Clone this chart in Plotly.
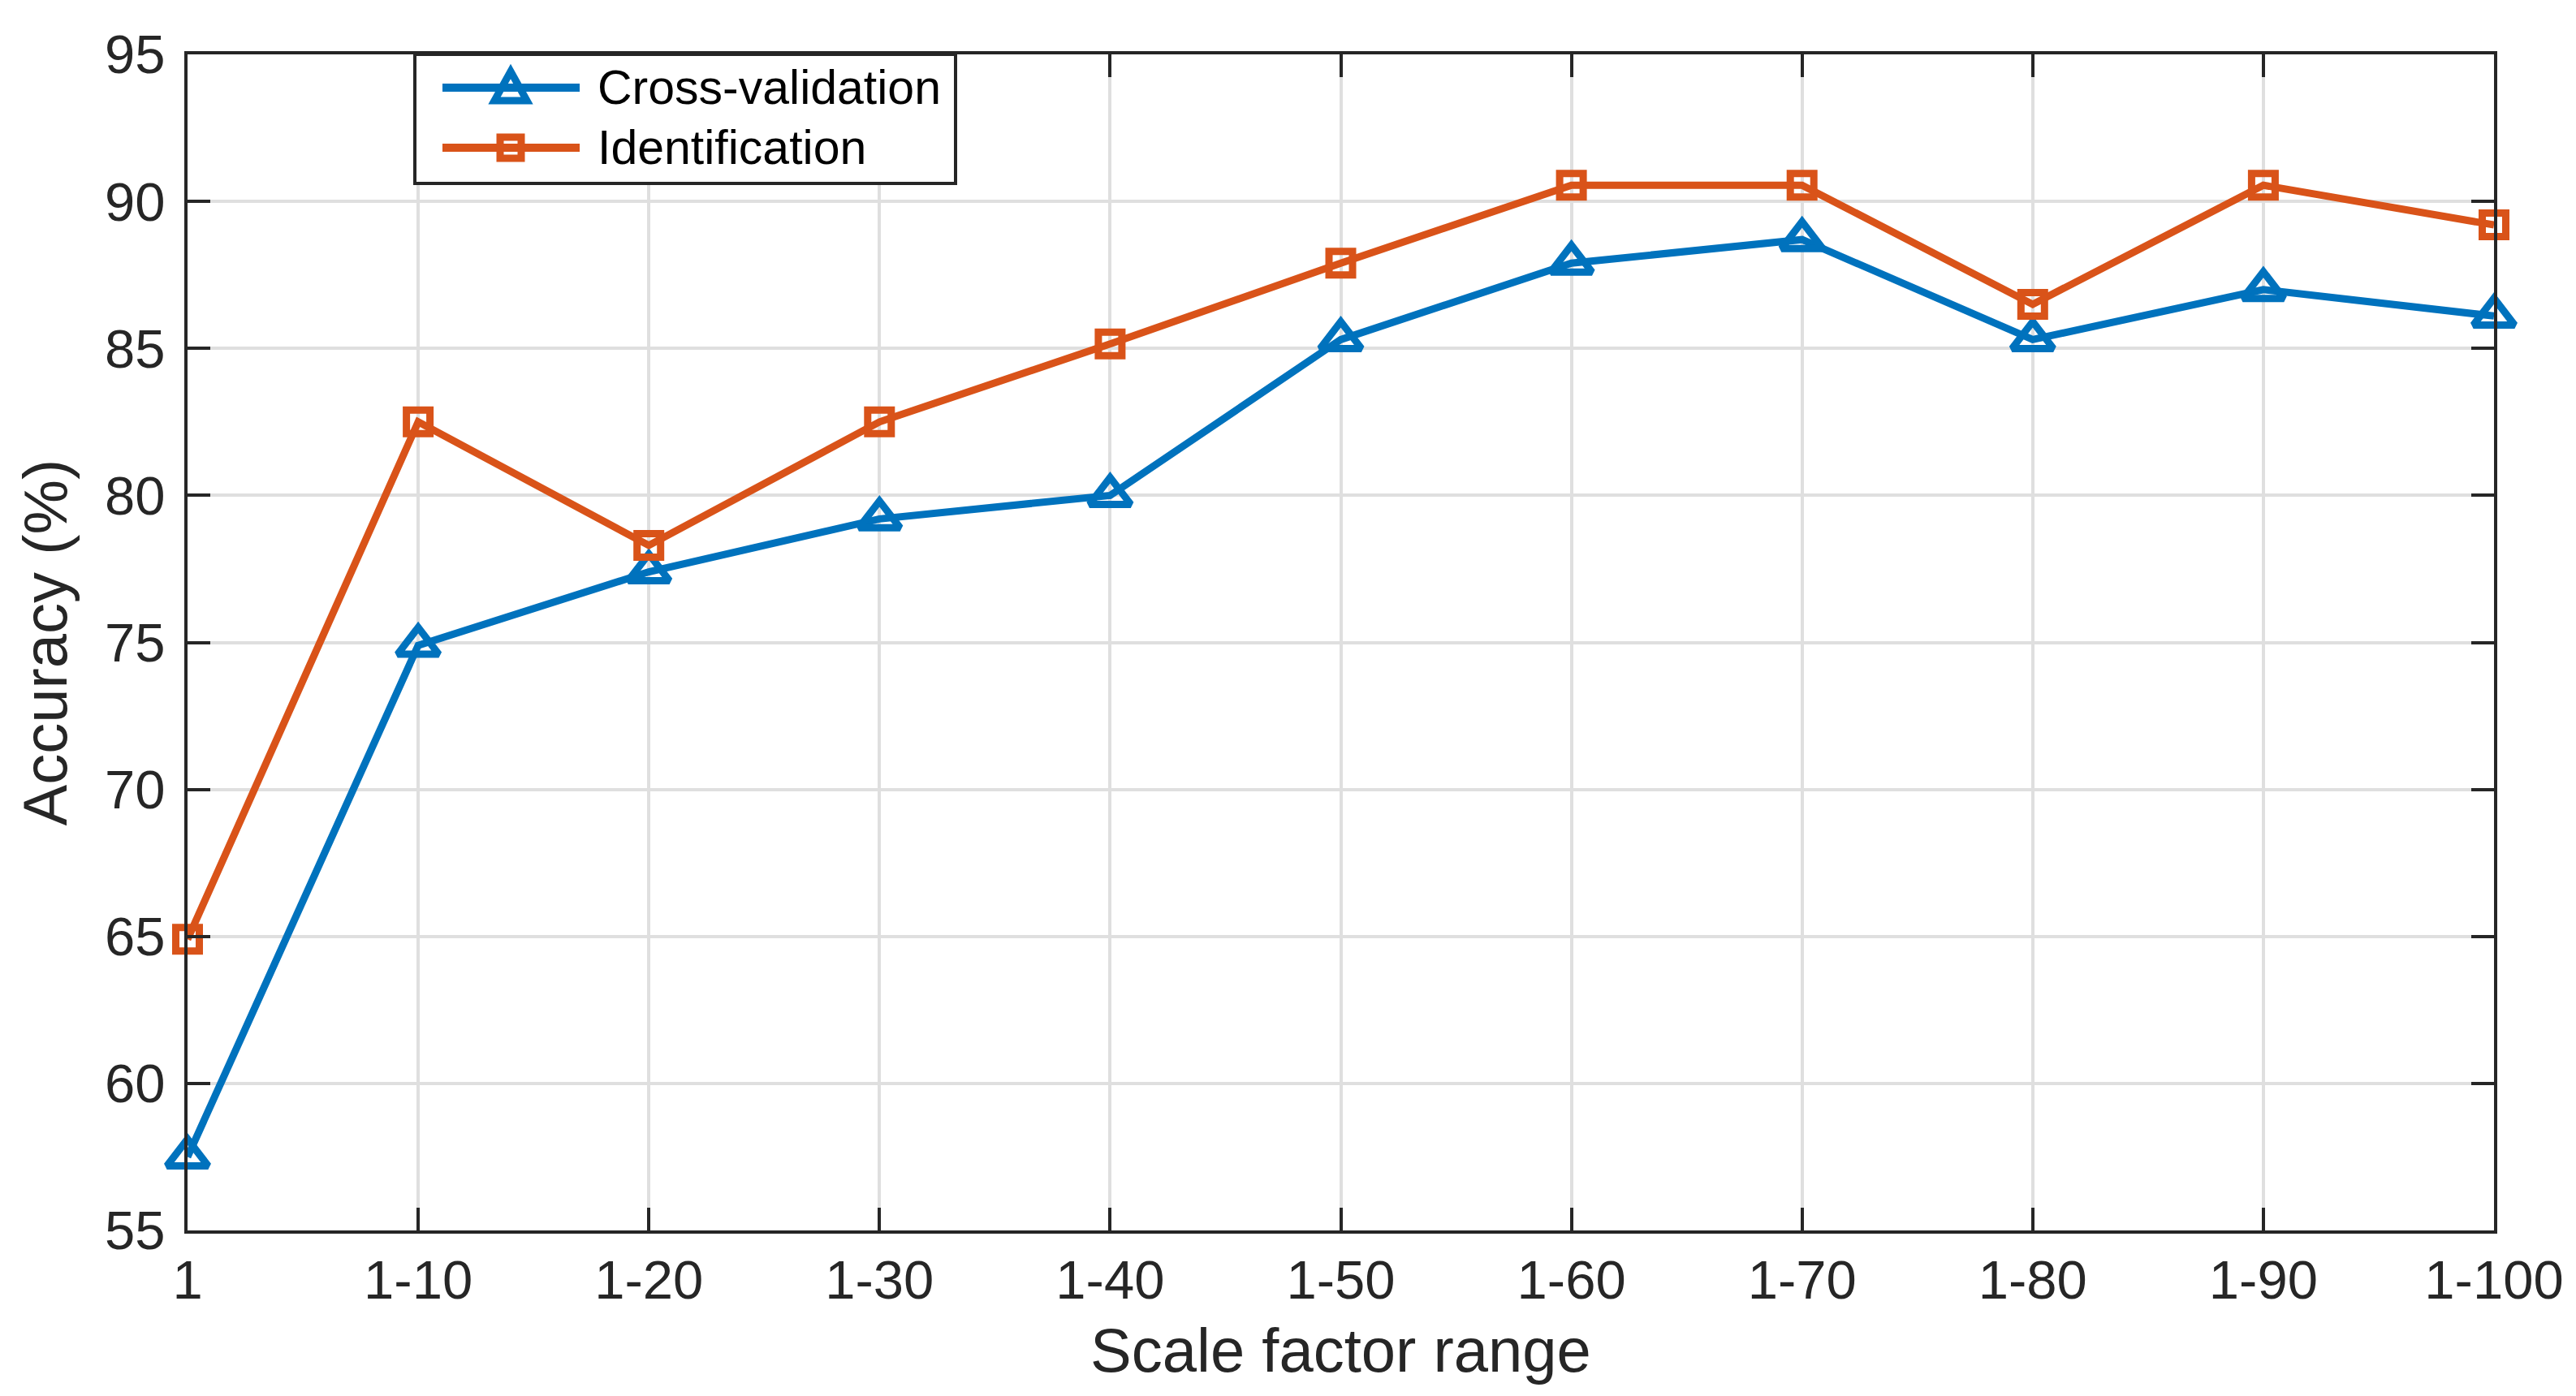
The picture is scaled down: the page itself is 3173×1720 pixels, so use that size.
import plotly.graph_objects as go

# ---------------- data ----------------
categories = ["1", "1-10", "1-20", "1-30", "1-40", "1-50",
              "1-60", "1-70", "1-80", "1-90", "1-100"]
cross_validation = [57.5, 74.9, 77.4, 79.2, 80.0, 85.3, 87.9, 88.7, 85.3, 87.0, 86.1]
identification = [64.9, 82.5, 78.3, 82.5, 85.15, 87.9, 90.55, 90.55, 86.5, 90.55, 89.2]
y_ticks = [55, 60, 65, 70, 75, 80, 85, 90, 95]
series_names = ["Cross-validation", "Identification"]

# ---------------- style ----------------
W, H = 3173, 1720
BLUE = "#0072BD"
ORANGE = "#D95319"
AX = "#262626"
GRID = "#DFDFDF"
FONT = "Liberation Sans, Arial, Helvetica, sans-serif"
LW = 9
MLW = 9

fig = go.Figure()
fig.add_trace(go.Scatter(
    x=categories, y=cross_validation, mode="lines+markers", name=series_names[0],
    line=dict(color=BLUE, width=LW),
    marker=dict(symbol="triangle-up-open", size=44, color=BLUE,
                line=dict(color=BLUE, width=MLW)),
    cliponaxis=False, showlegend=False))
fig.add_trace(go.Scatter(
    x=categories, y=identification, mode="lines+markers", name=series_names[1],
    line=dict(color=ORANGE, width=LW),
    marker=dict(symbol="square-open", size=29, color=ORANGE,
                line=dict(color=ORANGE, width=MLW)),
    cliponaxis=False, showlegend=False))

axis_common = dict(
    showline=True, linecolor=AX, linewidth=4, mirror="ticks",
    ticks="inside", ticklen=28, tickwidth=4, tickcolor=AX,
    showgrid=True, gridcolor=GRID, gridwidth=4, zeroline=False,
    tickfont=dict(family=FONT, size=67, color=AX),
)

fig.update_layout(
    width=W, height=H,
    margin=dict(l=223, r=109, t=59, b=212, autoexpand=False),
    paper_bgcolor="white", plot_bgcolor="white",
    xaxis=dict(**axis_common, type="category", range=[0, len(categories) - 1],
               categoryorder="array", categoryarray=categories,
               ticklabelstandoff=0,
               title=dict(text="Scale factor range", standoff=24,
                          font=dict(family=FONT, size=76, color=AX))),
    yaxis=dict(**axis_common, range=[55, 95], tickvals=y_ticks,
               ticklabelstandoff=10,
               title=dict(text="Accuracy (%)", standoff=22,
                          font=dict(family=FONT, size=76, color=AX))),
    showlegend=False,
)

# ---------------- manual legend (MATLAB style) ----------------
PW, PH = W - 223 - 109, H - 59 - 212
def px(x):
    return (x - 223) / PW
def py(y):
    return (H - 212 - y) / PH

box = dict(x0=px(503), x1=px(1169), y0=py(218), y1=py(59))
fig.add_shape(type="rect", xref="paper", yref="paper", **box,
              fillcolor="white", line=dict(color=AX, width=4), layer="above")

rows = [py(100), py(174)]
colors = [BLUE, ORANGE]
lx0, lx1, lmid, tx = px(537), px(706), px(621), px(726)
for i, (yy, col) in enumerate(zip(rows, colors)):
    fig.add_shape(type="line", xref="paper", yref="paper", x0=lx0, x1=lx1,
                  y0=yy, y1=yy, line=dict(color=col, width=LW + 1), layer="above")
    if i == 0:
        fig.add_shape(type="path", xref="paper", yref="paper",
                      xsizemode="pixel", ysizemode="pixel", xanchor=lmid, yanchor=yy,
                      path="M -20 -16 L 20 -16 L 0 20 Z",
                      line=dict(color=col, width=MLW), layer="above")
    else:
        fig.add_shape(type="rect", xref="paper", yref="paper",
                      xsizemode="pixel", ysizemode="pixel", xanchor=lmid, yanchor=yy,
                      x0=-13, x1=13, y0=-13, y1=13,
                      line=dict(color=col, width=MLW), layer="above")
    fig.add_annotation(x=tx, y=yy, xref="paper", yref="paper", text=series_names[i],
                       showarrow=False, xanchor="left", yanchor="middle",
                       font=dict(family=FONT, size=59, color="black"))

fig.write_html("out.html")
